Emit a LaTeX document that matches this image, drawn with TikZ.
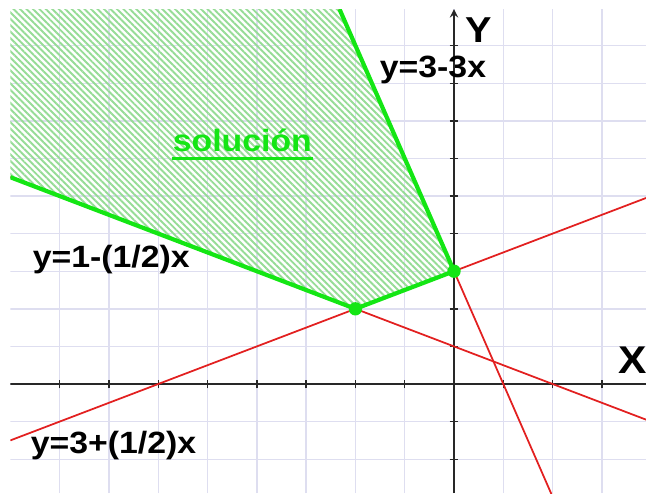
\documentclass[tikz,border=0pt]{standalone}
\usepackage{fontspec}
\setmainfont{Liberation Sans}
\usetikzlibrary{patterns.meta}

\definecolor{rejilla}{RGB}{222,222,240}
\definecolor{rojo}{RGB}{226,32,32}
\definecolor{verde}{RGB}{20,230,20}
\definecolor{rayado}{RGB}{150,220,150}
\definecolor{ejes}{RGB}{40,40,40}

\begin{document}
\begin{tikzpicture}[x=0.986cm,y=0.752cm,>=stealth, line width=0.8pt]
        \tikzstyle{rotulo} = [font=\bfseries\fontsize{17.5}{20}\selectfont, inner sep=0pt, anchor=base west, xscale=1.1]
        \tikzstyle{recta} = [draw=rojo, line width=1pt]
        \tikzstyle{borde} = [draw=verde, line width=2.4pt, line join=round]
        \tikzstyle{eje} = [draw=ejes, line width=1.1pt]
        \tikzstyle{punto} = [circle, fill=verde, inner sep=0pt, minimum size=7.6pt]

        % Marco de la imagen
        \useasboundingbox (-9.209,-2.899) rectangle (3.894,10.213);

        % Vertices de la region
        \coordinate (izq) at (-9, 5.5);
        \coordinate (A) at (-2, 2);
        \coordinate (B) at (0, 3);
        \coordinate (arriba) at (-2.323, 9.97);
        \coordinate (esq) at (-9, 9.97);

        \begin{scope}
            \clip (-9,-2.899) rectangle (3.894,9.97);

            % Rejilla
            \foreach \i in {-8,...,3}
                \draw[rejilla] (\i,-2.9) -- (\i,9.97);
            \foreach \j in {-2,...,9}
                \draw[rejilla] (-9,\j) -- (3.9,\j);

            % Region solucion (rayada)
            \fill[pattern={Lines[angle=-45,distance=2.6pt,line width=1.1pt]}, pattern color=rayado]
                (izq) -- (A) -- (B) -- (arriba) -- (esq) -- cycle;

            % Ejes
            \draw[eje] (-9,0) -- (3.9,0);
            \draw[eje,->] (0,-2.9) -- (0,9.97);
            \foreach \i in {-8,...,-1,1,2,3}
                \draw[eje, line width=0.8pt] (\i,0) ++(0,-2.5pt) -- ++(0,5pt);
            \foreach \j in {-2,-1,1,2,...,9}
                \draw[eje, line width=0.8pt] (0,\j) ++(-2.5pt,0) -- ++(5pt,0);

            % Rectas
            \draw[recta, domain=-9:3.9] plot (\x, {1-\x/2});
            \draw[recta, domain=-9:3.9] plot (\x, {3+\x/2});
            \draw[recta, domain=-2.4:2.0] plot (\x, {3-3*\x});

            % Borde de la region
            \draw[borde] (izq) -- (A) -- (B) -- (arriba);
            \node[punto] (pA) at (A) {};
            \node[punto] (pB) at (B) {};
        \end{scope}

        % Etiquetas
        \node[rotulo] (r1) at (-1.52, 8.14) {y=3-3x};
        \node[rotulo] (r2) at (-8.56, 3.11) {y=1-(1/2)x};
        \node[rotulo] (r3) at (-8.60, -1.86) {y=3+(1/2)x};
        \node[rotulo, text=verde] (sol) at (-5.72, 6.18) {solución};
        \draw[verde, line width=1.8pt] ([yshift=-4pt]sol.base west) -- ([yshift=-4pt]sol.base east);
        \node[rotulo, font=\bfseries\fontsize{20.5}{22}\selectfont, xscale=1] (ejeY) at (0.22, 9.07) {Y};
        \node[rotulo, font=\bfseries\fontsize{22}{24}\selectfont, xscale=1] (ejeX) at (3.33, 0.29) {X};
\end{tikzpicture}
\end{document}
